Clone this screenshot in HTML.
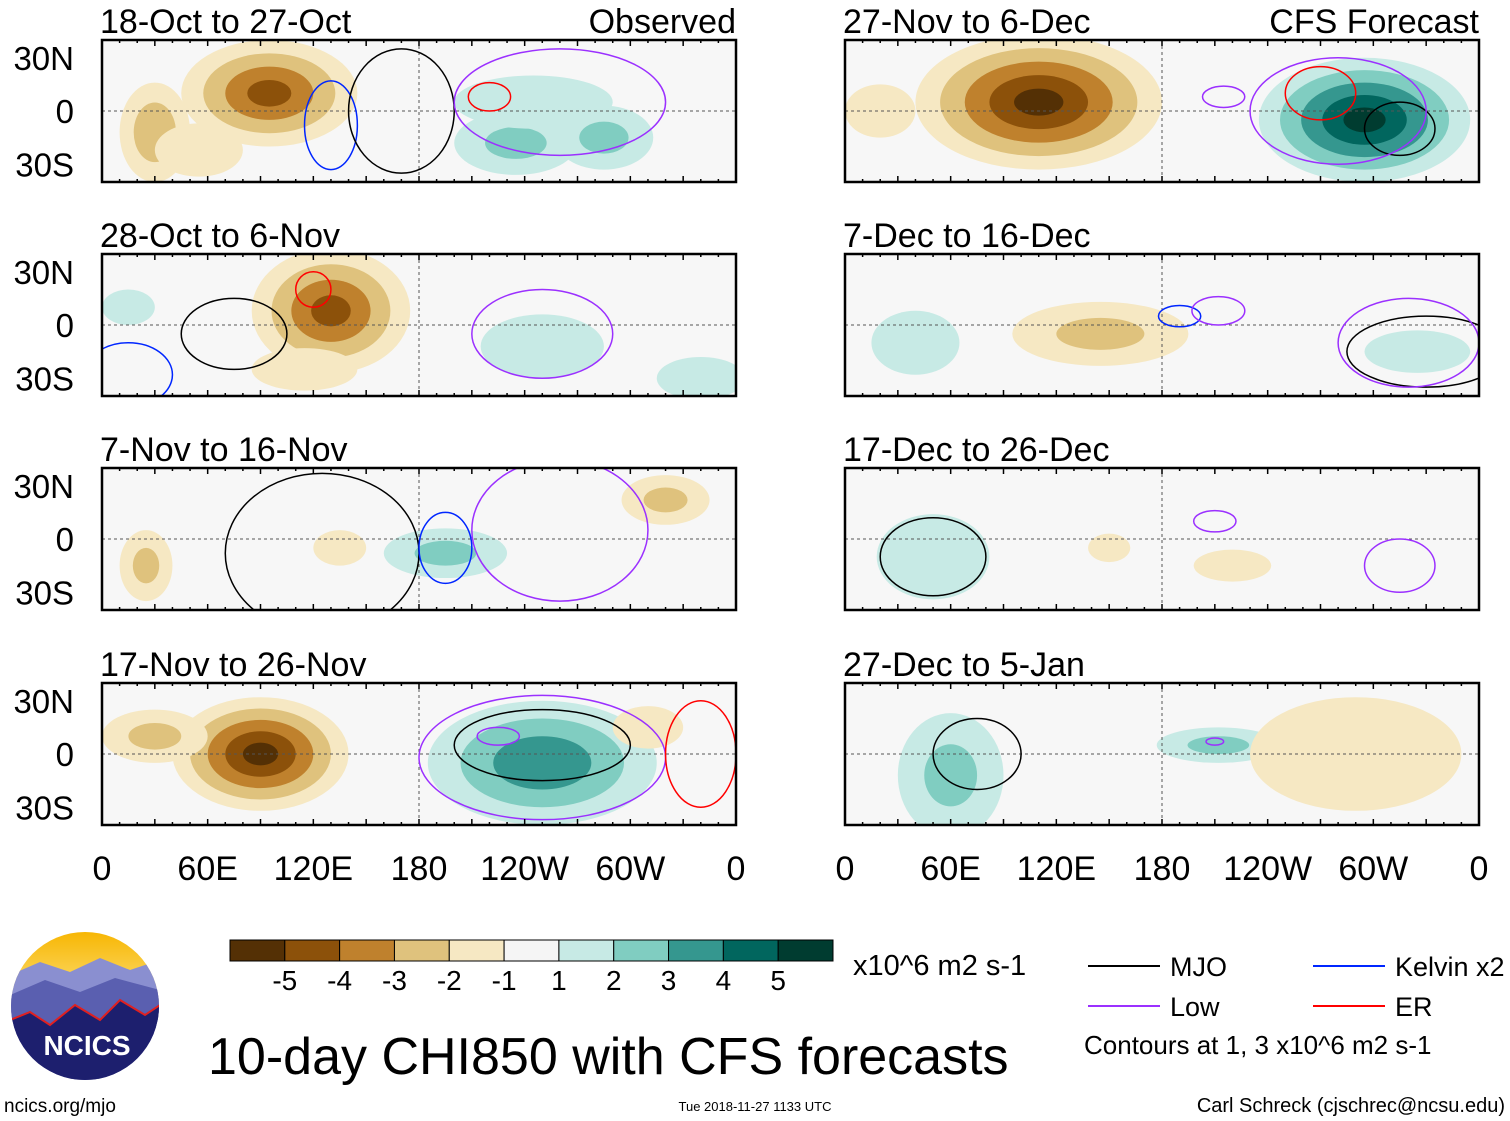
<!DOCTYPE html>
<html><head><meta charset="utf-8"><style>
body{margin:0;background:#fff;}
svg{display:block;font-family:"Liberation Sans",sans-serif;}
</style></head><body>
<svg id="fig" width="1510" height="1121" viewBox="0 0 1510 1121" xmlns="http://www.w3.org/2000/svg"></svg>
<script>
// ---- data ----
const panelTitles = ["18-Oct to 27-Oct","28-Oct to 6-Nov","7-Nov to 16-Nov","17-Nov to 26-Nov","27-Nov to 6-Dec","7-Dec to 16-Dec","17-Dec to 26-Dec","27-Dec to 5-Jan"];
// anomaly blobs per panel: [lon, lat, rxDeg, ryDeg, peak]
const panelBlobs = [
 [[95,10,50,30,-4],[30,-12,20,28,-2.5],[235,-18,35,18,2],[285,-15,28,18,2],[245,5,45,15,1.5],[55,-22,25,15,-1.6]],
 [[130,8,45,35,-4],[250,-12,35,18,1.6],[340,-30,25,12,1.5],[15,10,15,10,1.2],[115,-25,30,12,-1.4]],
 [[25,-15,15,20,-2],[195,-8,35,14,2],[320,22,25,14,-2],[135,-5,15,10,-1.2]],
 [[90,0,50,32,-5],[30,10,30,15,-2],[250,-5,65,35,3.5],[310,15,20,12,-1.5]],
 [[110,5,70,38,-5],[295,-5,60,35,5],[20,0,20,15,-1.5]],
 [[145,-5,50,18,-2],[40,-10,25,18,1.3],[325,-15,30,12,1.3]],
 [[50,-10,32,24,1.8],[150,-5,12,8,-1.5],[220,-15,22,9,-1.3]],
 [[60,-12,30,35,2],[212,5,35,10,2],[290,0,60,32,-1.6]]
];
// contours per panel: [lon, lat, rxDeg, ryDeg, type]
const panelContours = [
 [[130,-8,15,25,"kelvin"],[170,0,30,35,"mjo"],[220,8,12,8,"er"],[260,5,60,30,"low"]],
 [[75,-5,30,20,"mjo"],[120,20,10,10,"er"],[15,-28,25,18,"kelvin"],[250,-5,40,25,"low"]],
 [[125,-8,55,45,"mjo"],[195,-5,15,20,"kelvin"],[260,5,50,40,"low"]],
 [[250,5,50,20,"mjo"],[250,-2,70,35,"low"],[340,0,20,30,"er"],[225,10,12,5,"low"]],
 [[270,10,20,15,"er"],[315,-10,20,15,"mjo"],[280,0,50,30,"low"],[215,8,12,6,"low"]],
 [[190,5,12,6,"kelvin"],[212,8,15,8,"low"],[330,-15,45,20,"mjo"],[320,-10,40,25,"low"]],
 [[50,-10,30,22,"mjo"],[210,10,12,6,"low"],[315,-15,20,15,"low"]],
 [[75,0,25,20,"mjo"],[210,7,5,2,"low"]]
];
const lonTicks = ["0","60E","120E","180","120W","60W","0"];
const latTicks = ["30N","0","30S"];
const cbColors = ["#543005","#8c510a","#bf812d","#dfc27d","#f6e8c3","#f5f5f5","#c7eae5","#80cdc1","#35978f","#01665e","#003c30"];
const cbLabels = ["-5","-4","-3","-2","-1","1","2","3","4","5"];
const contourColors = {mjo:"#000",low:"#9b30ff",kelvin:"#0026ff",er:"#ff0000"};

const NS="http://www.w3.org/2000/svg";
const svg=document.getElementById('fig');
function mk(tag,attrs,parent){const e=document.createElementNS(NS,tag);for(const k in attrs)e.setAttribute(k,attrs[k]);(parent||svg).appendChild(e);return e;}
function txt(s,x,y,size,anchor,parent){const t=mk('text',{x:x,y:y,'font-size':size,'text-anchor':anchor||'start',fill:'#000'},parent);t.textContent=s;return t;}

const PW=634, PH=142, XS=PW/360, YS=PH/80;
const cols=[102,845], rows=[40,254,468,683];
function colorFor(v){
  const a=Math.abs(v);
  const idx = a<=1?1:Math.min(5,Math.floor(a));
  return v>0?cbColors[5+idx]:cbColors[5-idx];
}
for(let p=0;p<8;p++){
  const x0=cols[p<4?0:1], y0=rows[p%4];
  const g=mk('g',{},svg);
  
  
  const X=lon=>x0+lon*XS, Y=lat=>y0+PH/2-lat*YS;
  const cid='clip'+p;
  const cp=mk('clipPath',{id:cid},g); mk('rect',{x:x0,y:y0,width:PW,height:PH},cp);
  mk('rect',{x:x0,y:y0,width:PW,height:PH,fill:'#f7f7f7'},g);
  const inner=mk('g',{'clip-path':'url(#'+cid+')'},g);
  for(const b of panelBlobs[p]){
    const [lon,lat,rx,ry,pk]=b; const n=Math.floor(Math.abs(pk)); const s=Math.sign(pk);
    for(let k=1;k<=n;k++){
      const f=1-(k-1)/Math.abs(pk);
      const e=mk('ellipse',{cx:X(lon),cy:Y(lat),rx:rx*XS*f,ry:ry*YS*f,fill:colorFor(s*(k+0.01))},inner);
      
      
    }
  }
  mk('line',{x1:x0,y1:Y(0),x2:x0+PW,y2:Y(0),stroke:'#555','stroke-dasharray':'3,3','stroke-width':1},inner);
  mk('line',{x1:X(180),y1:y0,x2:X(180),y2:y0+PH,stroke:'#555','stroke-dasharray':'3,3','stroke-width':1},inner);
  for(const c of panelContours[p]){
    const [lon,lat,rx,ry,t]=c;
    const e=mk('ellipse',{cx:X(lon),cy:Y(lat),rx:rx*XS,ry:ry*YS,fill:'none',stroke:contourColors[t],'stroke-width':1.5},inner);
    
    
  }
  mk('rect',{x:x0,y:y0,width:PW,height:PH,fill:'none',stroke:'#000','stroke-width':2.5},g);
  for(let lon=0;lon<=360;lon+=10){
    const L=lon%30==0?6:3;
    mk('line',{x1:X(lon),y1:y0,x2:X(lon),y2:y0+L,stroke:'#000','stroke-width':1.5},g);
    mk('line',{x1:X(lon),y1:y0+PH,x2:X(lon),y2:y0+PH-L,stroke:'#000','stroke-width':1.5},g);
  }
  const tt=txt(panelTitles[p],x0-2,y0-7,34,'start',g);
  
  
  if(p<4){ latTicks.forEach((l,i)=>{txt(l,74,Y(30-30*i)+12,33,'end',g);}); }
  if(p==0){txt("Observed",x0+PW,y0-7,34,'end',g);}
  if(p==4){txt("CFS Forecast",x0+PW,y0-7,34,'end',g);}
  if(p%4==3){ lonTicks.forEach((l,i)=>{txt(l,X(60*i),y0+PH+55,34,'middle',g);}); }
}
// colorbar
const cb=mk('g',{},svg);


const cbx=230,cbw=603/11;
cbColors.forEach((c,i)=>mk('rect',{x:cbx+i*cbw,y:940,width:cbw,height:21,fill:c,stroke:'#000','stroke-width':1},cb));
cbLabels.forEach((l,i)=>txt(l,cbx+(i+1)*cbw,990,28,'middle',cb));
txt("x10^6 m2 s-1",853,975,29,'start',cb);
// legend
const lg=mk('g',{},svg);


[["MJO",1088,966,"mjo"],["Kelvin x2",1313,966,"kelvin"],["Low",1088,1006,"low"],["ER",1313,1006,"er"]].forEach(a=>{
  mk('line',{x1:a[1],y1:a[2],x2:a[1]+72,y2:a[2],stroke:contourColors[a[3]],'stroke-width':2},lg);
  txt(a[0],a[1]+82,a[2]+10,27,'start',lg);
});
txt("Contours at 1, 3 x10^6 m2 s-1",1084,1054,26,'start',lg);
const ttl=txt("10-day CHI850 with CFS forecasts",208,1074,52,'start');


txt("ncics.org/mjo",4,1112,19,'start');
txt("Tue 2018-11-27 1133 UTC",755,1111,13,'middle');
txt("Carl Schreck (cjschrec@ncsu.edu)",1505,1112,20,'end');
// logo
const lo=mk('g',{},svg);


const defs=mk('defs',{},lo);
const gr=mk('linearGradient',{id:'sky',x1:0,y1:0,x2:0,y2:1},defs);
mk('stop',{offset:'0','stop-color':'#f7b500'},gr);mk('stop',{offset:'0.5','stop-color':'#fde68a'},gr);
const lc=mk('clipPath',{id:'logoclip'},defs);mk('circle',{cx:85,cy:1006,r:74},lc);
const lg2=mk('g',{'clip-path':'url(#logoclip)'},lo);
mk('rect',{x:0,y:930,width:170,height:160,fill:'url(#sky)'},lg2);
mk('path',{d:'M10 975 L40 962 L70 972 L100 958 L130 970 L160 960 L160 1090 L10 1090Z',fill:'#8a8fd0'},lg2);
mk('path',{d:'M10 995 L45 980 L80 992 L115 978 L160 990 L160 1090 L10 1090Z',fill:'#5a5fb0'},lg2);
mk('path',{d:'M10 1020 L30 1012 L50 1025 L75 1005 L100 1020 L120 1000 L145 1015 L160 1005 L160 1090 L10 1090Z',fill:'#1d1f6e'},lg2);
mk('path',{d:'M10 1020 L30 1012 L50 1025 L75 1005 L100 1020 L120 1000 L145 1015 L160 1005',fill:'none',stroke:'#e02020','stroke-width':2},lg2);
const nt=txt("NCICS",87,1055,28,'middle',lo);nt.setAttribute('fill','#fff');nt.setAttribute('font-weight','bold');
</script>
</body></html>
